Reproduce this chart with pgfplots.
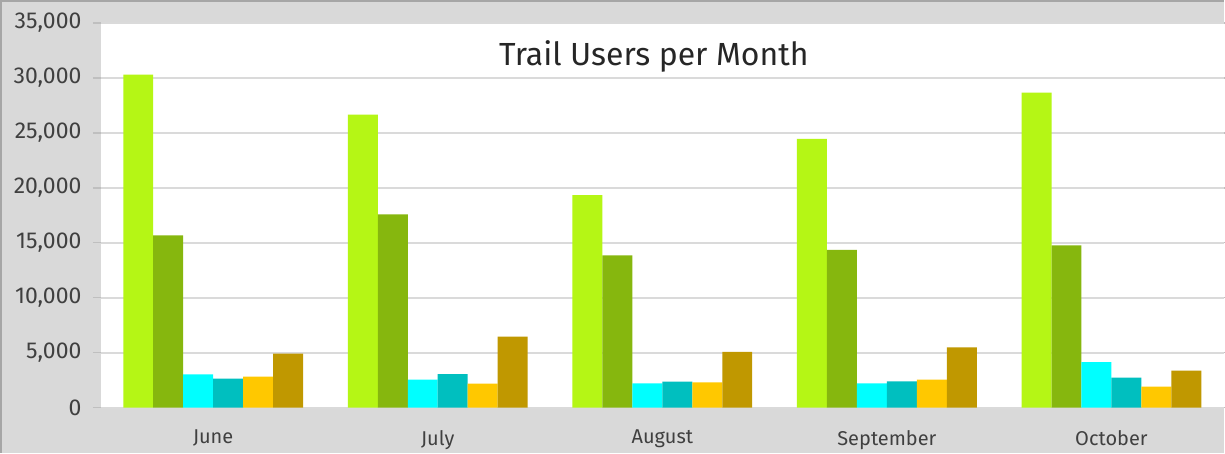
\documentclass[border=0pt]{standalone}
\usepackage{pgfplots}
\pgfplotsset{compat=1.18}
\usepackage{fontspec}
\setmainfont{Fira Sans}
\definecolor{bggray}{HTML}{D9D9D9}
\definecolor{framegray}{HTML}{A6A6A6}
\definecolor{gridgray}{HTML}{DADADA}
\definecolor{tickgray}{HTML}{BFBFBF}
\definecolor{labgray}{HTML}{404040}
\definecolor{cA}{HTML}{B5F615}
\definecolor{cB}{HTML}{86B70E}
\definecolor{cC}{HTML}{00FFFF}
\definecolor{cD}{HTML}{00BFBF}
\definecolor{cE}{HTML}{FFC800}
\definecolor{cF}{HTML}{C09800}
\begin{document}
\begin{tikzpicture}[x=1pt,y=1pt]
\fill[bggray] (0,0) rectangle (1225,453);
\draw[framegray, line width=2.5pt] (1.25,0) -- (1.25,451.75) -- (1225,451.75);
\useasboundingbox (0,0) rectangle (1225,453);
\begin{axis}[
  at={(101pt,45pt)}, anchor=south west,
  scale only axis, width=1124pt, height=385pt,
  xmin=-0.5, xmax=4.5, ymin=0, ymax=35000,
  axis background/.style={fill=white},
  axis line style={draw=none},
  ytick={0,5000,...,35000},
  ymajorgrids, grid style={gridgray, line width=2pt},
  ytick style={tickgray, line width=1.5pt},
  major tick length=8pt, minor tick length=7pt, tick align=outside,
  xtick={0,1,2,3,4},
  xticklabels={June,July,August,September,October},
  xtick style={draw=none},
  minor xtick={-0.5,0.5,1.5,2.5,3.5,4.5},
  minor tick style={tickgray, line width=1.2pt},
  scaled y ticks=false,
  yticklabel style={/pgf/number format/fixed, /pgf/number format/1000 sep={,}, font=\fontsize{23}{27}\selectfont, text=labgray, xshift=-8pt},
  xticklabel style={font=\fontsize{20}{24}\selectfont, text=labgray, yshift=-11pt},
  /pgf/number format/assume math mode=true,
  ybar, bar width=30pt,
  clip=false,
]
\addplot[fill=cA, draw=none, bar shift=-75pt] coordinates {(0,30300) (1,26650) (2,19340) (3,24450) (4,28670)};
\addplot[fill=cB, draw=none, bar shift=-45pt] coordinates {(0,15660) (1,17590) (2,13850) (3,14360) (4,14760)};
\addplot[fill=cC, draw=none, bar shift=-15pt] coordinates {(0,3030) (1,2540) (2,2210) (3,2210) (4,4130)};
\addplot[fill=cD, draw=none, bar shift=15pt] coordinates {(0,2640) (1,3050) (2,2360) (3,2390) (4,2730)};
\addplot[fill=cE, draw=none, bar shift=45pt] coordinates {(0,2820) (1,2170) (2,2300) (3,2550) (4,1910)};
\addplot[fill=cF, draw=none, bar shift=75pt] coordinates {(0,4910) (1,6460) (2,5060) (3,5480) (4,3360)};
\node[font=\fontsize{32}{38}\selectfont, text=black!85] at (rel axis cs:0.4925,0.912) {Trail Users per Month};
\end{axis}
\end{tikzpicture}
\end{document}
